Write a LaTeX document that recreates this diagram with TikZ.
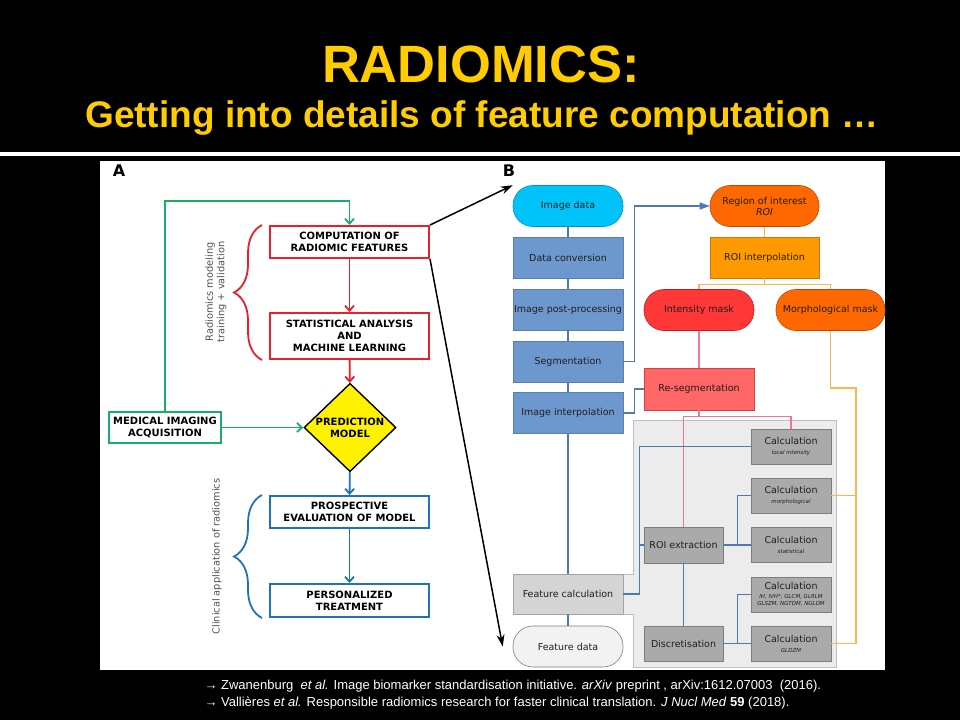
\documentclass[tikz,border=0pt]{standalone}
\usepackage{fontspec}
\setmainfont{DejaVu Sans}
\newfontfamily\arialfont{Liberation Sans}
\usepackage{tikz}
\usetikzlibrary{arrows.meta, shapes.geometric, calc, decorations.pathreplacing}
\definecolor{titlegold}{RGB}{255,204,0}
\definecolor{ared}{RGB}{232,32,42}
\definecolor{agreen}{RGB}{22,176,100}
\definecolor{ablue}{RGB}{30,115,190}
\definecolor{agray}{RGB}{80,80,80}
\definecolor{mytext}{RGB}{30,30,30}
\definecolor{bcyan}{RGB}{0,195,250}
\definecolor{bcyandk}{RGB}{0,140,200}
\definecolor{bsteel}{RGB}{108,152,205}
\definecolor{bsteeldk}{RGB}{88,128,178}
\definecolor{bline}{RGB}{79,121,181}
\definecolor{broi}{RGB}{255,104,0}
\definecolor{broidk}{RGB}{190,70,0}
\definecolor{binterp}{RGB}{255,153,0}
\definecolor{binterpdk}{RGB}{210,120,0}
\definecolor{bintens}{RGB}{255,55,55}
\definecolor{bintensdk}{RGB}{190,30,30}
\definecolor{breseg}{RGB}{255,102,102}
\definecolor{bresegdk}{RGB}{200,70,70}
\definecolor{bpink}{RGB}{240,120,140}
\definecolor{borange}{RGB}{255,180,80}
\definecolor{bcalc}{RGB}{170,170,170}
\definecolor{bcalcdk}{RGB}{125,125,125}
\definecolor{bfeat}{RGB}{212,212,212}
\definecolor{bfeatdk}{RGB}{165,165,165}
\definecolor{bdata}{RGB}{242,242,242}
\definecolor{bregion}{RGB}{236,236,236}
\definecolor{bregiondk}{RGB}{190,190,190}
\newcommand{\calcsub}[1]{{\fontsize{5.5}{6.5}\selectfont\itshape #1}}
\tikzset{
  abox/.style={rectangle, draw=#1, fill=white, line width=2pt,
    minimum width=159pt, inner sep=0pt, align=center,
    font=\fontsize{10}{12.2}\selectfont\bfseries},
  aarrow/.style={-{Straight Barb[length=5pt,width=9pt]}, line width=1.8pt, color=#1},
  abrace/.style={decorate, decoration={brace, amplitude=28pt}, line width=1.8pt, color=#1},
  sidelbl/.style={rotate=90, align=center, text=agray, font=\fontsize{9.8}{11.5}\selectfont},
  bigarrow/.style={-{Stealth[length=12pt,width=8pt]}, line width=1.5pt, color=black},
  bnode/.style={rectangle, inner sep=0pt, minimum width=110pt, minimum height=41pt,
    align=center, text=mytext, line width=0.6pt, font=\fontsize{9.5}{11}\selectfont},
  pill/.style={bnode, rounded corners=20pt},
  stepbox/.style={bnode, draw=bsteeldk, fill=bsteel},
  calcbox/.style={bnode, minimum width=80pt, minimum height=35pt, draw=bcalcdk, fill=bcalc},
  bconn/.style={line width=1.2pt, color=bline},
  barrow/.style={-{Triangle[length=10pt,width=7pt]}, line width=1.2pt, color=bline},
  pconn/.style={line width=1.2pt, color=bpink},
  oconn/.style={line width=1.2pt, color=borange}
}

\begin{document}
\begin{tikzpicture}[x=1pt, y=-1pt]

  % Slide
  \useasboundingbox (0,0) rectangle (960,720);
  \fill[black] (0,0) rectangle (960,720);
  \fill[white] (0,152) rectangle (960,156);
  \fill[white] (100,161) rectangle (885,670);

  % Title
  \node[anchor=base, text=titlegold, font=\arialfont\bfseries\fontsize{52.5}{60}\selectfont] (title) at (481,82) {RADIOMICS:};
  \node[anchor=base, text=titlegold, font=\arialfont\bfseries\fontsize{37}{42}\selectfont] (subtitle) at (482,127) {Getting into details of feature computation …};

  % Panel A
  \node[font=\fontsize{16}{18}\selectfont\bfseries] (lblA) at (119,171) {A};
  \node[abox=ared, minimum height=32pt] (comp) at (349.5,242) {COMPUTATION OF\\RADIOMIC FEATURES};
  \node[abox=ared, minimum height=46pt] (stat) at (349.5,336) {STATISTICAL ANALYSIS\\AND\\MACHINE LEARNING};
  \node[diamond, draw=black, fill=yellow, line width=1.4pt, minimum width=92pt, minimum height=87pt,
    inner sep=0pt, align=center, font=\fontsize{10}{12.2}\selectfont\bfseries] (pred) at (350,427.5) {PREDICTION\\MODEL};
  \node[abox=agreen, minimum width=112pt, minimum height=31pt] (acq) at (165,427.5) {MEDICAL IMAGING\\ACQUISITION};
  \node[abox=ablue, minimum height=32pt] (prosp) at (349.5,512) {PROSPECTIVE\\EVALUATION OF MODEL};
  \node[abox=ablue, minimum height=33pt] (pers) at (349.5,600.5) {PERSONALIZED\\TREATMENT};

  \draw[aarrow=ared] (comp) -- (stat);
  \draw[aarrow=ared] (stat) -- (pred);
  \draw[aarrow=agreen] (acq) -- (pred);
  \draw[aarrow=agreen] (acq.north) |- ([yshift=24pt]comp.north) -- (comp.north);
  \draw[aarrow=ablue] (pred) -- (prosp);
  \draw[aarrow=ablue] (prosp) -- (pers);

  \draw[abrace=ared] ([xshift=-7pt]stat.south west) -- ([xshift=-7pt]comp.north west);
  \draw[abrace=ablue] ([xshift=-7pt]pers.south west) -- ([xshift=-7pt]prosp.north west);
  \node[sidelbl] (modlbl) at (216,292) {Radiomics modeling\\training + validation};
  \node[sidelbl] (clinlbl) at (217,556.5) {Clinical application of radiomics};

  % Panel B
  \node[font=\fontsize{16}{18}\selectfont\bfseries] (lblB) at (509,171) {B};
  \filldraw[fill=bregion, draw=bregiondk, line width=0.8pt]
    (633,420) -| (836,667) -| (633,614) -- (623,614) -- (623,574) -- (633,574) -- cycle;

  \node[pill, draw=bcyandk, fill=bcyan] (imgdata) at (568,206) {Image data};
  \node[stepbox] (dataconv) at (568,257.5) {Data conversion};
  \node[stepbox] (postproc) at (568,309.5) {Image post-processing};
  \node[stepbox] (segm) at (568,361.5) {Segmentation};
  \node[stepbox] (imginterp) at (568,413) {Image interpolation};
  \node[bnode, draw=bfeatdk, fill=bfeat, minimum height=40pt] (featcalc) at (568,594) {Feature calculation};
  \node[pill, draw=bcalcdk, fill=bdata] (featdata) at (568,646.5) {Feature data};

  \node[pill, draw=broidk, fill=broi, minimum width=109pt] (roi) at (764.5,206) {Region of interest\\\textit{ROI}};
  \node[bnode, draw=binterpdk, fill=binterp, minimum width=109pt] (roiinterp) at (764.5,257.5) {ROI interpolation};
  \node[pill, draw=bintensdk, fill=bintens] (intmask) at (699,310) {Intensity mask};
  \node[pill, draw=broidk, fill=broi, minimum width=109pt] (morphmask) at (830.5,310) {Morphological mask};
  \node[bnode, draw=bresegdk, fill=breseg, minimum height=42pt] (reseg) at (699,389) {Re-segmentation};

  \node[calcbox, minimum width=79pt, minimum height=36pt] (roiext) at (683.5,545) {ROI extraction};
  \node[calcbox, minimum width=79pt] (discr) at (683.5,643.5) {Discretisation};
  \node[calcbox] (calcloc) at (791,446.5) {Calculation\\[-1pt]\calcsub{local intensity}};
  \node[calcbox] (calcmorph) at (791,495.5) {Calculation\\[-1pt]\calcsub{morphological}};
  \node[calcbox] (calcstat) at (791,545) {Calculation\\[-1pt]\calcsub{statistical}};
  \node[calcbox] (calctex) at (791,594.5) {Calculation\\[-2pt]\calcsub{IH, IVH*, GLCM, GLRLM}\\[-4pt]\calcsub{GLSZM, NGTDM, NGLDM}};
  \node[calcbox] (calcgldzm) at (791,643.5) {Calculation\\[-1pt]\calcsub{GLDZM}};

  % Main column
  \draw[bconn] (imgdata) -- (dataconv);
  \draw[bconn] (dataconv) -- (postproc);
  \draw[bconn] (postproc) -- (segm);
  \draw[bconn] (segm) -- (imginterp);
  \draw[bconn] (imginterp) -- (featcalc);
  \draw[bconn] (featcalc) -- (featdata);
  \draw[barrow] (segm.east) -- ++(11,0) |- (roi.west);
  \draw[bconn] (imginterp.east) -- ++(11,0) |- (reseg.west);

  % ROI branch
  \draw[oconn] (roi) -- (roiinterp);
  \draw[oconn] (roiinterp.south) -- ++(0,6) -| (intmask.north);
  \draw[oconn] (roiinterp.south) -- ++(0,6) -| (morphmask.north);
  \draw[pconn] (intmask) -- (reseg);
  \draw[pconn] (reseg.south) -- ++(0,6) -| (roiext.north);
  \draw[pconn] (reseg.south) -- ++(0,6) -| (calcloc.north);
  \coordinate (oj) at (856,388);
  \draw[oconn] (morphmask.south) |- (oj) |- (calcgldzm.east);
  \draw[oconn] (calcmorph.east) -- (calcmorph.east -| oj);

  % Feature calculation
  \coordinate (fcj) at ($(featcalc.east)+(16,0)$);
  \draw[bconn] (featcalc.east) -- (fcj) |- (calcloc.west);
  \draw[bconn] (roiext.west) -- (roiext.west -| fcj);
  \draw[bconn] (roiext.east) -- ++(14,0) |- (calcmorph.west);
  \draw[bconn] (roiext) -- (calcstat);
  \draw[bconn] (roiext) -- (discr);
  \draw[bconn] (discr.east) -- ++(14,0) |- (calctex.west);
  \draw[bconn] (discr) -- (calcgldzm);

  % Zoom arrows
  \draw[bigarrow] (comp.north east) -- (imgdata.north west);
  \draw[bigarrow] (comp.south east) -- ([xshift=-10pt]featdata.west);

  % References
  \node[anchor=base west, text=white, font=\arialfont\fontsize{13}{15}\selectfont] (ref1) at (201,689)
    {→ Zwanenburg \ \textit{et al.} Image biomarker standardisation initiative. \textit{arXiv} preprint , arXiv:1612.07003 \ (2016).};
  \node[anchor=base west, text=white, font=\arialfont\fontsize{13}{15}\selectfont] (ref2) at (201,706)
    {→ Vallières \textit{et al.} Responsible radiomics research for faster clinical translation. \textit{J Nucl Med} \textbf{59} (2018).};
\end{tikzpicture}
\end{document}
